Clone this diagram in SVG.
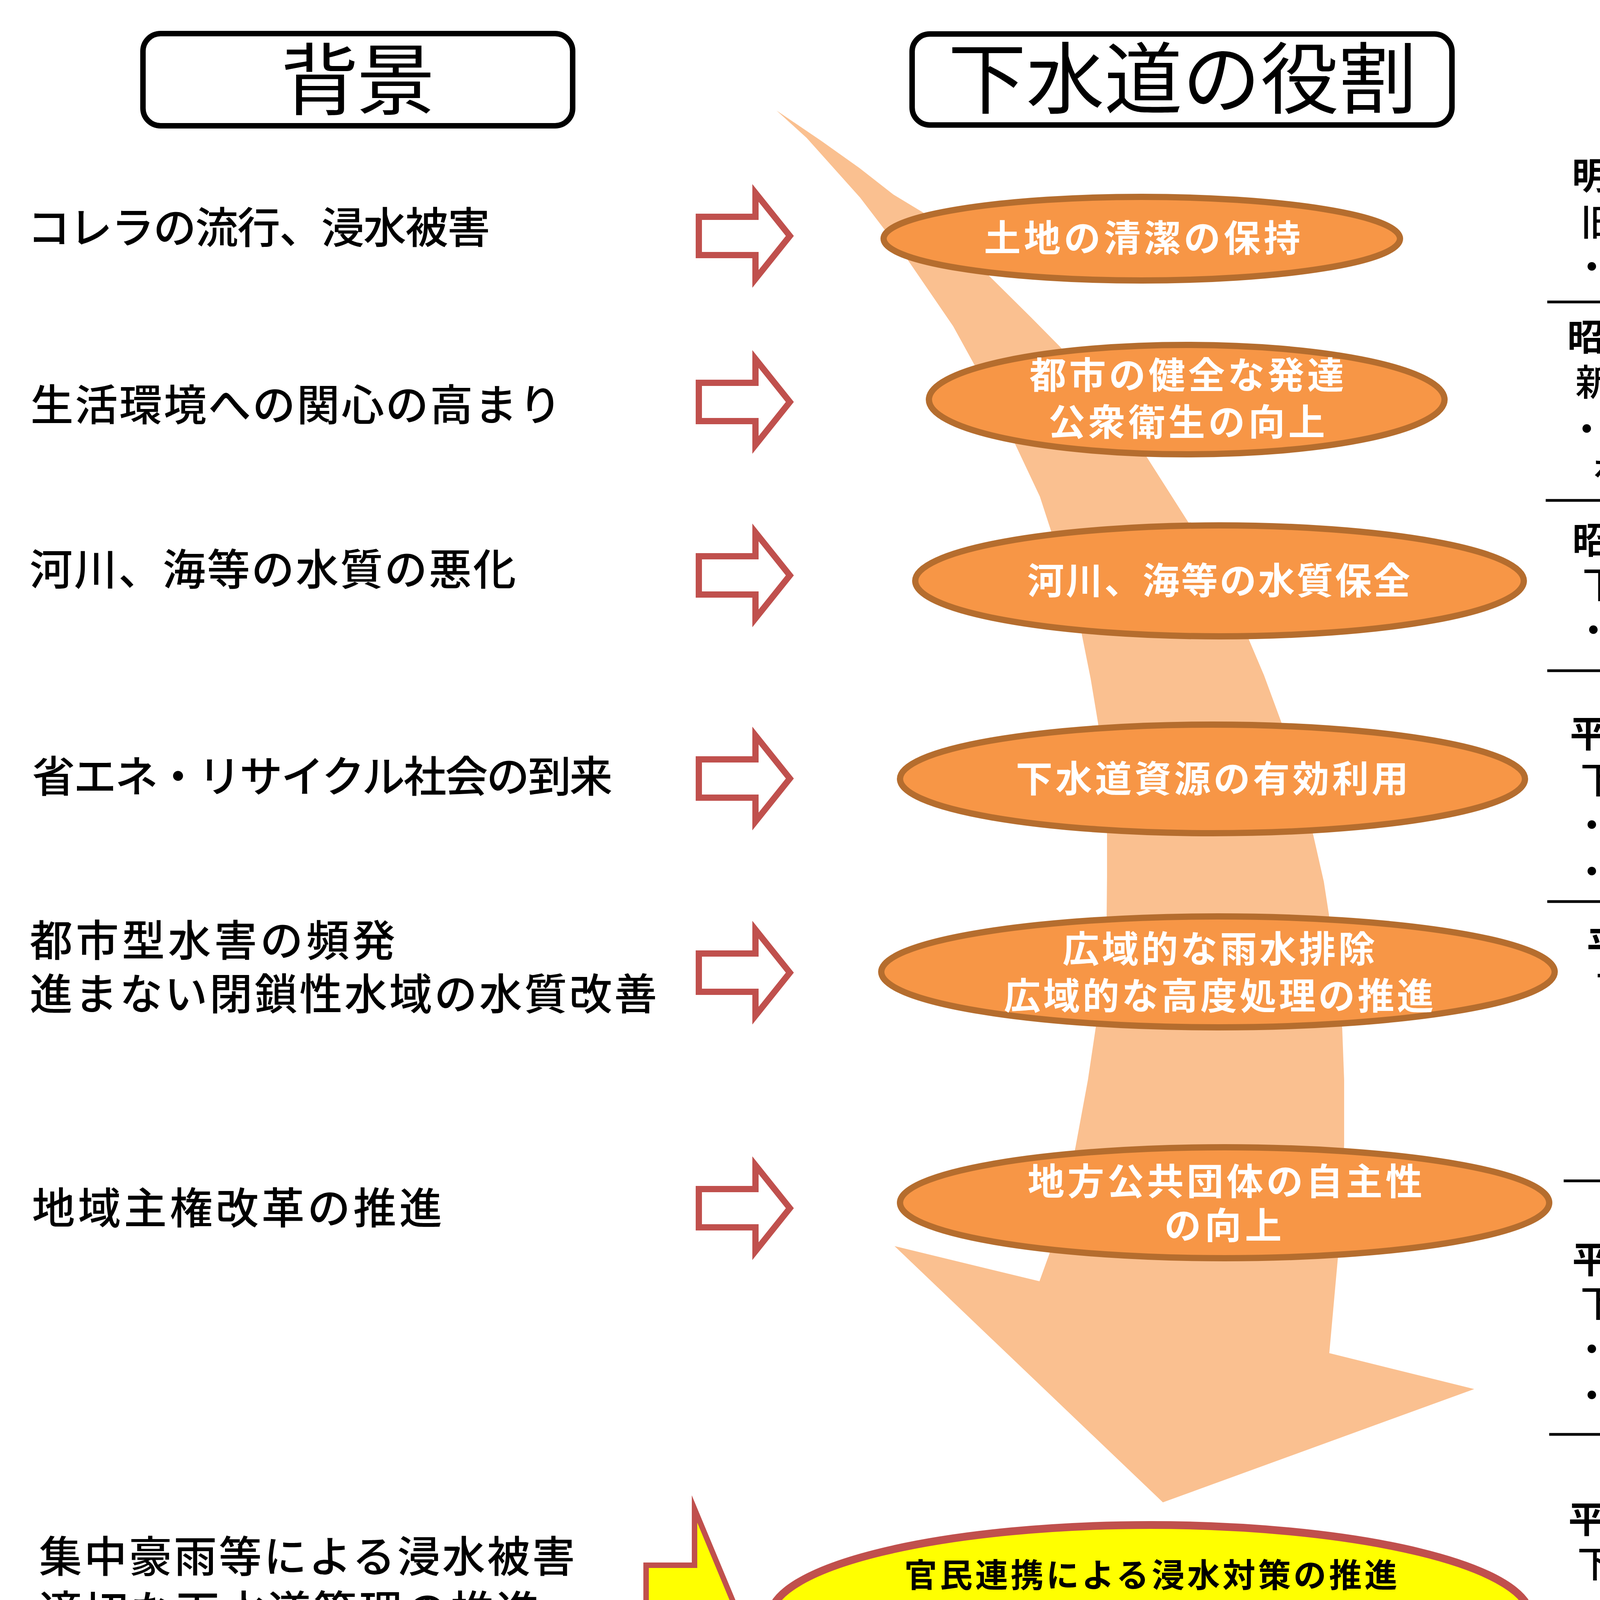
<svg xmlns="http://www.w3.org/2000/svg" width="6016" height="4465" viewBox="0 0 6016 4465">
<style>
text{font-family:"Noto Sans CJK JP","Noto Sans CJK SC",sans-serif;}
.hd{font-size:200px;text-anchor:middle;fill:#000;}
.hbox{fill:#fff;stroke:#000;stroke-width:14;}
.lt{font-size:110px;font-weight:500;fill:#000;}
.rt{font-size:94px;font-weight:500;fill:#000;}
.rb{font-weight:bold;}
.et{font-size:94px;font-weight:bold;fill:#fff;text-anchor:middle;}
.yt{font-size:84px;font-weight:bold;fill:#000;text-anchor:middle;}
.harr{fill:#fff;stroke:#C0504D;stroke-width:16;stroke-miterlimit:10;}
.ell{fill:#F79646;stroke:#B56D2E;stroke-width:16;}
.sep{stroke:#000;stroke-width:7;}
</style>
<rect width="6016" height="4465" fill="#fff"/>

<g id="flow">
<path fill="#FAC090" d="M1988,283 L2065,353 L2202,506 L2325,667 L2440,835 L2554,1042 L2662,1271 L2730,1480 L2769,1622 L2792,1737 L2811,1851 L2828,2000 L2834,2138 L2834,2242 L2833,2345 L2822,2490 L2805,2631 L2785,2765 L2753,2938 L2722,3075 L2686,3211 L2661,3280 L2290,3190 L2977,3846 L3774,3556 L3403,3464 L3425,3220 L3436,3070 L3441,2928 L3441,2765 L3436,2631 L3420,2480 L3402,2341 L3389,2257 L3362,2138 L3325,1990 L3281,1851 L3236,1729 L3197,1637 L3120,1480 L3044,1340 L2937,1172 L2830,1030 L2715,889 L2639,812 L2531,705 L2363,544 L2287,498 L2200,430 L2103,361 Z"/>
</g>

<g id="header-bg">
<rect class="hbox" x="366" y="86" width="1100" height="236" rx="45"/>
<text class="hd" x="916" y="278" textLength="395" lengthAdjust="spacing">背景</text>
</g>
<g id="header-role">
<rect class="hbox" x="2335" y="87" width="1382" height="233" rx="45"/>
<text class="hd" x="3027" y="275" textLength="1200" lengthAdjust="spacing">下水道の役割</text>
</g>
<g id="header-law">
<rect class="hbox" x="4227" y="87" width="1379" height="233" rx="45"/>
<text class="hd" x="4916" y="275" textLength="1045" lengthAdjust="spacing">下水道法令</text>
</g>

<g id="bg1"><text class="lt" x="70" y="623" textLength="1185" lengthAdjust="spacing">コレラの流行、浸水被害</text></g>
<g id="bg2"><text class="lt" x="78" y="1077" textLength="1360" lengthAdjust="spacing">生活環境への関心の高まり</text></g>
<g id="bg3"><text class="lt" x="76" y="1498" textLength="1245" lengthAdjust="spacing">河川、海等の水質の悪化</text></g>
<g id="bg4"><text class="lt" x="82" y="2028" textLength="1486" lengthAdjust="spacing">省エネ・リサイクル社会の到来</text></g>
<g id="bg5"><text class="lt" x="76" y="2448" textLength="936" lengthAdjust="spacing">都市型水害の頻発</text>
<text class="lt" x="76" y="2585" textLength="1606" lengthAdjust="spacing">進まない閉鎖性水域の水質改善</text></g>
<g id="bg6"><text class="lt" x="82" y="3133" textLength="1050" lengthAdjust="spacing">地域主権改革の推進</text></g>
<g id="bg7"><text class="lt" x="100" y="4025" textLength="1372" lengthAdjust="spacing">集中豪雨等による浸水被害</text>
<text class="lt" x="100" y="4165" textLength="1281" lengthAdjust="spacing">適切な下水道管理の推進</text>
<text class="lt" x="100" y="4307" textLength="1495" lengthAdjust="spacing">再生可能エネルギー活用推進</text></g>

<g id="connectors">
<path class="harr" d="M1789,555 L1934,555 L1934,494 L2022,604 L1934,714 L1934,653 L1789,653 Z"/>
<path class="harr" d="M1789,980 L1934,980 L1934,919 L2022,1029 L1934,1139 L1934,1078 L1789,1078 Z"/>
<path class="harr" d="M1789,1424 L1934,1424 L1934,1363 L2022,1473 L1934,1583 L1934,1522 L1789,1522 Z"/>
<path class="harr" d="M1789,1944 L1934,1944 L1934,1883 L2022,1993 L1934,2103 L1934,2042 L1789,2042 Z"/>
<path class="harr" d="M1789,2441 L1934,2441 L1934,2380 L2022,2490 L1934,2600 L1934,2539 L1789,2539 Z"/>
<path class="harr" d="M1789,3044 L1934,3044 L1934,2983 L2022,3093 L1934,3203 L1934,3142 L1789,3142 Z"/>
<path fill="#FFFF00" stroke="#C0504D" stroke-width="14" stroke-miterlimit="10" d="M1654,4007 L1778,4007 L1778,3863 L1888,4127 L1778,4391 L1778,4244 L1654,4244 Z"/>
</g>

<g id="role1"><ellipse class="ell" cx="2923" cy="611" rx="661" ry="107"/>
<text class="et" x="2924" y="644" textLength="810" lengthAdjust="spacing">土地の清潔の保持</text></g>
<g id="role2"><ellipse class="ell" cx="3038" cy="1023" rx="660" ry="140"/>
<text class="et" x="3038" y="995" textLength="805" lengthAdjust="spacing">都市の健全な発達</text>
<text class="et" x="3038" y="1115" textLength="708" lengthAdjust="spacing">公衆衛生の向上</text></g>
<g id="role3"><ellipse class="ell" cx="3122" cy="1487" rx="779" ry="142"/>
<text class="et" x="3120" y="1521" textLength="980" lengthAdjust="spacing">河川、海等の水質保全</text></g>
<g id="role4"><ellipse class="ell" cx="3104" cy="1994" rx="800" ry="139"/>
<text class="et" x="3103" y="2028" textLength="1005" lengthAdjust="spacing">下水道資源の有効利用</text></g>
<g id="role5"><ellipse class="ell" cx="3118" cy="2488" rx="862" ry="142"/>
<text class="et" x="3120" y="2464" textLength="800" lengthAdjust="spacing">広域的な雨水排除</text>
<text class="et" x="3120" y="2584" textLength="1100" lengthAdjust="spacing">広域的な高度処理の推進</text></g>
<g id="role6"><ellipse class="ell" cx="3135" cy="3079" rx="831" ry="142"/>
<text class="et" x="3136" y="3059" textLength="1010" lengthAdjust="spacing">地方公共団体の自主性</text>
<text class="et" x="3131" y="3172" textLength="300" lengthAdjust="spacing">の向上</text></g>
<g id="role7"><ellipse cx="2945" cy="4140" rx="973" ry="236" fill="#FFFF00" stroke="#C0504D" stroke-width="20"/>
<text class="yt" x="2946" y="4063" textLength="1262" lengthAdjust="spacing">官民連携による浸水対策の推進</text>
<text class="yt" x="2946" y="4172" textLength="1105" lengthAdjust="spacing">下水道機能の持続的な確保</text>
<text class="yt" x="2950" y="4282" textLength="1269" lengthAdjust="spacing">再生可能エネルギーの活用推進</text></g>

<g id="separators">
<line class="sep" x1="3961" y1="773" x2="5824" y2="773"/>
<line class="sep" x1="3957" y1="1281" x2="5818" y2="1281"/>
<line class="sep" x1="3961" y1="1717" x2="5856" y2="1717"/>
<line class="sep" x1="3961" y1="2308" x2="5851" y2="2308"/>
<line class="sep" x1="4003" y1="3023" x2="5891" y2="3023"/>
<line class="sep" x1="3966" y1="3672" x2="5856" y2="3672"/>
<line class="sep" x1="3957" y1="4430" x2="5843" y2="4430"/>
</g>

<g id="law1">
<text class="rt rb" x="4024" y="484" textLength="595" lengthAdjust="spacing">明治33年3月</text>
<text class="rt" x="4046" y="603" textLength="697" lengthAdjust="spacing">旧下水道法制定</text>
<text class="rt" x="4028" y="718" textLength="1545" lengthAdjust="spacing">・「土地の清潔の保持」を目的に規定</text>
</g>
<g id="law2">
<text class="rt rb" x="4012" y="897" textLength="602" lengthAdjust="spacing">昭和33年3月</text>
<text class="rt" x="4033" y="1013" textLength="710" lengthAdjust="spacing">新下水道法制定</text>
<text class="rt" x="4015" y="1133" textLength="1761" lengthAdjust="spacing">・「都市の健全な発達」「公衆衛生の向上」</text>
<text class="rt" x="4075" y="1245" textLength="589" lengthAdjust="spacing">を目的に規定</text>
</g>
<g id="law3">
<text class="rt rb" x="4025" y="1417" textLength="670" lengthAdjust="spacing">昭和45年12月</text>
<text class="rt" x="4051" y="1531" textLength="596" lengthAdjust="spacing">下水道法改正</text>
<text class="rt" x="4032" y="1648" textLength="1765" lengthAdjust="spacing">・「公共用水域の水質保全」を目的に規定</text>
</g>
<g id="law4">
<text class="rt rb" x="4019" y="1913" textLength="535" lengthAdjust="spacing">平成8年6月</text>
<text class="rt" x="4046" y="2031" textLength="594" lengthAdjust="spacing">下水道法改正</text>
<text class="rt" x="4028" y="2147" textLength="1366" lengthAdjust="spacing">・汚泥の減量処理の努力義務化</text>
<text class="rt" x="4028" y="2266" textLength="1297" lengthAdjust="spacing">・光ファイバー設置の規制緩和</text>
</g>
<g id="law5">
<text class="rt rb" x="4062" y="2453" textLength="601" lengthAdjust="spacing">平成17年6月</text>
<text class="rt" x="4085" y="2566" textLength="595" lengthAdjust="spacing">下水道法改正</text>
<text class="rt" x="4068" y="2684" textLength="1069" lengthAdjust="spacing">・雨水流域下水道の創設</text>
<text class="rt" x="4068" y="2797" textLength="1439" lengthAdjust="spacing">・流総計画に高度処理を位置づけ</text>
<text class="rt" x="4068" y="2915" textLength="1158" lengthAdjust="spacing">・事故時の措置の義務づけ</text>
</g>
<g id="law6">
<text class="rt rb" x="4025" y="3259" textLength="839" lengthAdjust="spacing">平成23年4月、8月</text>
<text class="rt" x="4046" y="3371" textLength="597" lengthAdjust="spacing">下水道法改正</text>
<text class="rt" x="4028" y="3489" textLength="1558" lengthAdjust="spacing">・事業計画の認可制度を協議制度へ</text>
<text class="rt" x="4028" y="3607" textLength="1357" lengthAdjust="spacing">・構造基準の一部を条例委任化</text>
</g>
<g id="law7">
<text class="rt rb" x="4015" y="3924" textLength="599" lengthAdjust="spacing">平成27年5月</text>
<text class="rt" x="4038" y="4038" textLength="599" lengthAdjust="spacing">下水道法改正</text>
<text class="rt" x="4019" y="4153" textLength="1369" lengthAdjust="spacing">・雨水貯留施設の管理協定制度</text>
<text class="rt" x="4019" y="4267" textLength="970" lengthAdjust="spacing">・維持修繕基準の創設</text>
<text class="rt" x="4019" y="4386" textLength="1168" lengthAdjust="spacing">・熱交換器設置の規制緩和</text>
</g>
</svg>
